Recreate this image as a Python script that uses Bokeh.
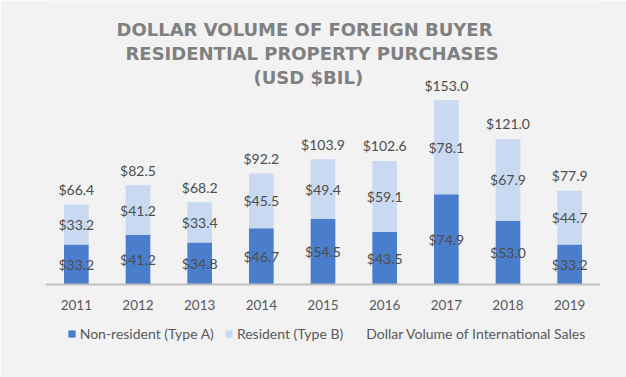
from bokeh.plotting import figure
from bokeh.models import ColumnDataSource, FactorRange, Range1d, Legend, LegendItem, Label
from bokeh.core.properties import value
from bokeh.embed import file_html
from bokeh.resources import INLINE

years = ["2011", "2012", "2013", "2014", "2015", "2016", "2017", "2018", "2019"]
non_resident = [33.2, 41.2, 34.8, 46.7, 54.5, 43.5, 74.9, 53.0, 33.2]
resident = [33.2, 41.2, 33.4, 45.5, 49.4, 59.1, 78.1, 67.9, 44.7]
total_volume = [66.4, 82.5, 68.2, 92.2, 103.9, 102.6, 153.0, 121.0, 77.9]
title_lines = ["DOLLAR VOLUME OF FOREIGN BUYER",
               "RESIDENTIAL PROPERTY PURCHASES",
               "(USD $BIL)"]

DARK = "#4a7dcb"
LIGHT = "#c8d9f1"
BG = "#f2f2f2"
LABEL_COLOR = "#4d4d4d"
FONT = "Lato"

stack_top = [a + b for a, b in zip(non_resident, resident)]
src = ColumnDataSource(dict(
    year=years,
    nr=non_resident,
    rs=resident,
    tot=total_volume,
    top=stack_top,
    zero=[0] * len(years),
    nr_mid=[a / 2 for a in non_resident],
    rs_mid=[a + b / 2 for a, b in zip(non_resident, resident)],
    nr_txt=[f"${v:.1f}" for v in non_resident],
    rs_txt=[f"${v:.1f}" for v in resident],
    tot_txt=[f"${v:.1f}" for v in total_volume],
))

p = figure(frame_width=555, frame_height=347,
           x_range=FactorRange(*years), y_range=Range1d(-52.3, 235.78),
           output_backend="svg", toolbar_location=None,
           y_axis_location=None,
           min_border_left=45, min_border_right=26,
           min_border_top=0, min_border_bottom=30)
p.background_fill_color = BG
p.border_fill_color = BG
p.outline_line_color = None
p.xgrid.visible = False
p.ygrid.visible = False

r_nr = p.vbar(x="year", bottom="zero", top="nr", width=0.4, source=src,
              fill_color=DARK, line_color=None)
r_rs = p.vbar(x="year", bottom="nr", top="top", width=0.4, source=src,
              fill_color=LIGHT, line_color=None)
r_tot = p.line(x="year", y="tot", source=src, line_alpha=0)

common = dict(source=src, text_font=value(FONT), text_font_size="14px",
              text_color=LABEL_COLOR, text_align="center", text_baseline="middle")
p.text(x="year", y="nr_mid", text="nr_txt", **common)
p.text(x="year", y="rs_mid", text="rs_txt", **common)
p.text(x="year", y="tot", text="tot_txt", y_offset=-15, **common)

ax = p.xaxis[0]
ax.fixed_location = 0
ax.axis_line_color = "#bfbfbf"
ax.axis_line_width = 2
ax.major_tick_line_color = None
ax.minor_tick_line_color = None
ax.major_label_text_font = FONT
ax.major_label_text_font_size = "13.5px"
ax.major_label_text_color = "#595959"
ax.major_label_standoff = 9

legend = Legend(items=[
    LegendItem(label="Non-resident (Type A)", renderers=[r_nr]),
    LegendItem(label="Resident (Type B)", renderers=[r_rs]),
    LegendItem(label="Dollar Volume of International Sales", renderers=[r_tot]),
], orientation="horizontal", location=(21.7, 4.7),
    glyph_width=9, glyph_height=9, label_standoff=4, spacing=10,
    padding=0, margin=0,
    border_line_alpha=0, background_fill_alpha=0,
    label_text_font=FONT, label_text_font_size="14px", label_text_color="#595959")
p.add_layout(legend)

# title lines: left edge and baseline, in pixels from the frame's bottom-left
title_x = [71, 80, 208]
title_y = [318, 293.7, 270]
for t, tx, ty in zip(title_lines, title_x, title_y):
    p.add_layout(Label(x=tx, y=ty, x_units="screen", y_units="screen", text=t,
                       text_align="left", text_baseline="alphabetic",
                       text_font="DejaVu Sans", text_font_style="bold",
                       text_font_size="18px", text_color="#808080"))

open("out.html", "w").write(file_html(p, INLINE))
